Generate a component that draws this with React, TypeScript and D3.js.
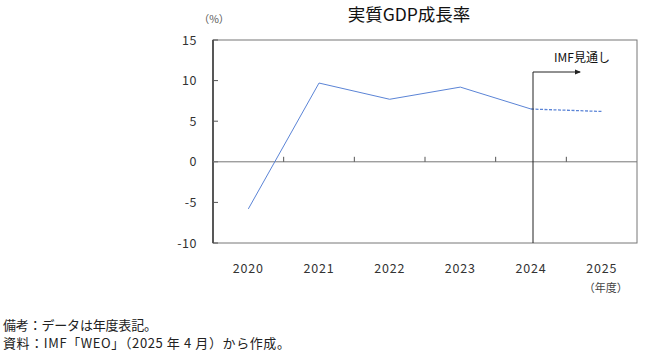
import React from "react";
import * as d3 from "d3";

const years = ["2020", "2021", "2022", "2023", "2024", "2025"];
const actualValues = [-5.8, 9.7, 7.7, 9.2, 6.5];
const forecastYears = ["2024", "2025"];
const forecastValues = [6.5, 6.2];
const yTicks = [15, 10, 5, 0, -5, -10];

const W = 645, H = 356;
const left = 213, right = 637, top = 40, bottom = 243;
const FONT = "'Noto Sans CJK JP', 'Noto Sans', sans-serif";

export default function App() {
  const x = d3.scaleBand<string>().domain(years).range([left, right]).padding(0);
  const y = d3.scaleLinear().domain([-10, 15]).range([bottom, top]);
  const cx = (d: string) => (x(d) as number) + x.bandwidth() / 2;
  const line = d3.line<[string, number]>().x((d) => cx(d[0])).y((d) => y(d[1]));
  const actual = years.slice(0, actualValues.length).map((yr, i) => [yr, actualValues[i]] as [string, number]);
  const forecast = forecastYears.map((yr, i) => [yr, forecastValues[i]] as [string, number]);
  const vx = cx("2024") + 2;
  const arrowY = 72;
  const lineColor = "#5b84d6";
  return (
    <svg width={W} height={H} style={{ position: "absolute", left: 0, top: 0, background: "#fff" }} fontFamily={FONT}>
      <defs>
        <marker id="ah" markerWidth="6" markerHeight="6" refX="5" refY="3" orient="auto" markerUnits="userSpaceOnUse">
          <path d="M0,0.5 L6,3 L0,5.5 Z" fill="#222" />
        </marker>
      </defs>
      <text x={409} y={21} textAnchor="middle" fontSize={17.5} fill="#111">実質GDP成長率</text>
      <text x={214} y={23} textAnchor="middle" fontSize={10.5} fill="#555">（%）</text>
      {/* plot frame */}
      <rect x={left} y={top} width={right - left} height={bottom - top} fill="none" stroke="#777" strokeWidth={1} />
      <line x1={left} x2={left} y1={top} y2={bottom} stroke="#222" strokeWidth={1.3} />
      {/* y ticks */}
      {yTicks.map((t) => (
        <g key={t}>
          <line x1={left} x2={left + 5} y1={y(t)} y2={y(t)} stroke="#555" />
          <text x={197} y={y(t)} dy="0.36em" textAnchor="end" fontSize={12.5} fill="#333" letterSpacing={0.5}>{t}</text>
        </g>
      ))}
      {/* zero line */}
      <line x1={left} x2={right} y1={y(0)} y2={y(0)} stroke="#777" strokeWidth={1} />
      {years.slice(1).map((yr) => (
        <line key={yr} x1={x(yr) as number} x2={x(yr) as number} y1={y(0)} y2={y(0) - 5} stroke="#555" />
      ))}
      {/* x labels */}
      {years.map((yr) => (
        <text key={yr} x={cx(yr)} y={268} dy="0.36em" textAnchor="middle" fontSize={12.5} fill="#333" letterSpacing={0.8}>{yr}</text>
      ))}
      <text x={cx("2025") + 4} y={288} dy="0.36em" textAnchor="middle" fontSize={11} fill="#444">（年度）</text>
      {/* series */}
      <path d={line(actual) || ""} fill="none" stroke={lineColor} strokeWidth={1} />
      <path d={line(forecast) || ""} fill="none" stroke={lineColor} strokeWidth={1.3} strokeDasharray="3,1.5" />
      {/* forecast marker */}
      <line x1={vx} x2={vx} y1={arrowY} y2={bottom} stroke="#222" strokeWidth={1} />
      <line x1={vx} x2={580} y1={arrowY} y2={arrowY} stroke="#222" strokeWidth={1} markerEnd="url(#ah)" />
      <text x={582} y={58} dy="0.36em" textAnchor="middle" fontSize={12} fill="#111">IMF見通し</text>
      {/* notes */}
      <text x={3} y={325} dy="0.36em" fontSize={13} fill="#222" textLength={154} lengthAdjust="spacing">備考：データは年度表記。</text>
      <text x={3} y={343} dy="0.36em" fontSize={13} fill="#222" textLength={287} lengthAdjust="spacing">資料：IMF「WEO」（2025 年 4 月）から作成。</text>
    </svg>
  );
}
